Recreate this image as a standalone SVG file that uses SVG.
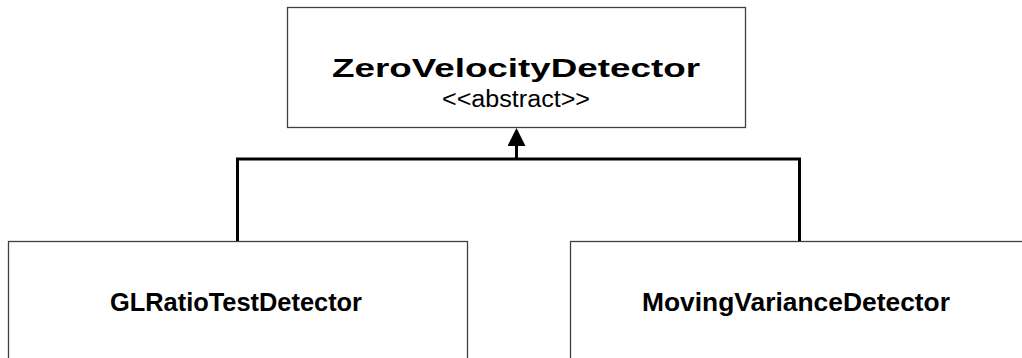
<svg xmlns="http://www.w3.org/2000/svg" width="1022" height="358" viewBox="0 0 1022 358">
<style>
.box{fill:#fff;stroke:#404040;stroke-width:1.3}
.t{font-family:"Liberation Sans",Arial,sans-serif;font-weight:bold;font-size:26px;fill:#000;text-anchor:middle}
.s{font-family:"Liberation Sans",Arial,sans-serif;font-size:23px;fill:#000;text-anchor:middle}
.c{fill:none;stroke:#000;stroke-width:3}
</style>
<defs>
<marker id="arr" markerWidth="6" markerHeight="6" refX="5" refY="3" orient="auto" markerUnits="strokeWidth">
<path d="M0,0 L6,3 L0,6 Z" fill="#000"/>
</marker>
</defs>
<rect width="1022" height="358" fill="#fff"/>
<g id="ZeroVelocityDetector">
<rect class="box" x="287.5" y="7.5" width="458" height="120"/>
<text class="t" x="516" y="77" textLength="368" lengthAdjust="spacingAndGlyphs">ZeroVelocityDetector</text>
<text class="s" x="516" y="107" textLength="148" lengthAdjust="spacingAndGlyphs">&lt;&lt;abstract&gt;&gt;</text>
</g>
<g id="GLRatioTestDetector">
<rect class="box" x="8.5" y="241.5" width="459" height="130"/>
<text class="t" x="236" y="311" textLength="252" lengthAdjust="spacingAndGlyphs">GLRatioTestDetector</text>
</g>
<g id="MovingVarianceDetector">
<rect class="box" x="570.5" y="241.5" width="460" height="130"/>
<text class="t" x="796" y="311" textLength="308" lengthAdjust="spacingAndGlyphs">MovingVarianceDetector</text>
</g>
<g id="connectors">
<path class="c" d="M237.5,241 V159 H799.5 V241"/>
<path class="c" d="M516.5,159 V131" marker-end="url(#arr)"/>
</g>
</svg>
